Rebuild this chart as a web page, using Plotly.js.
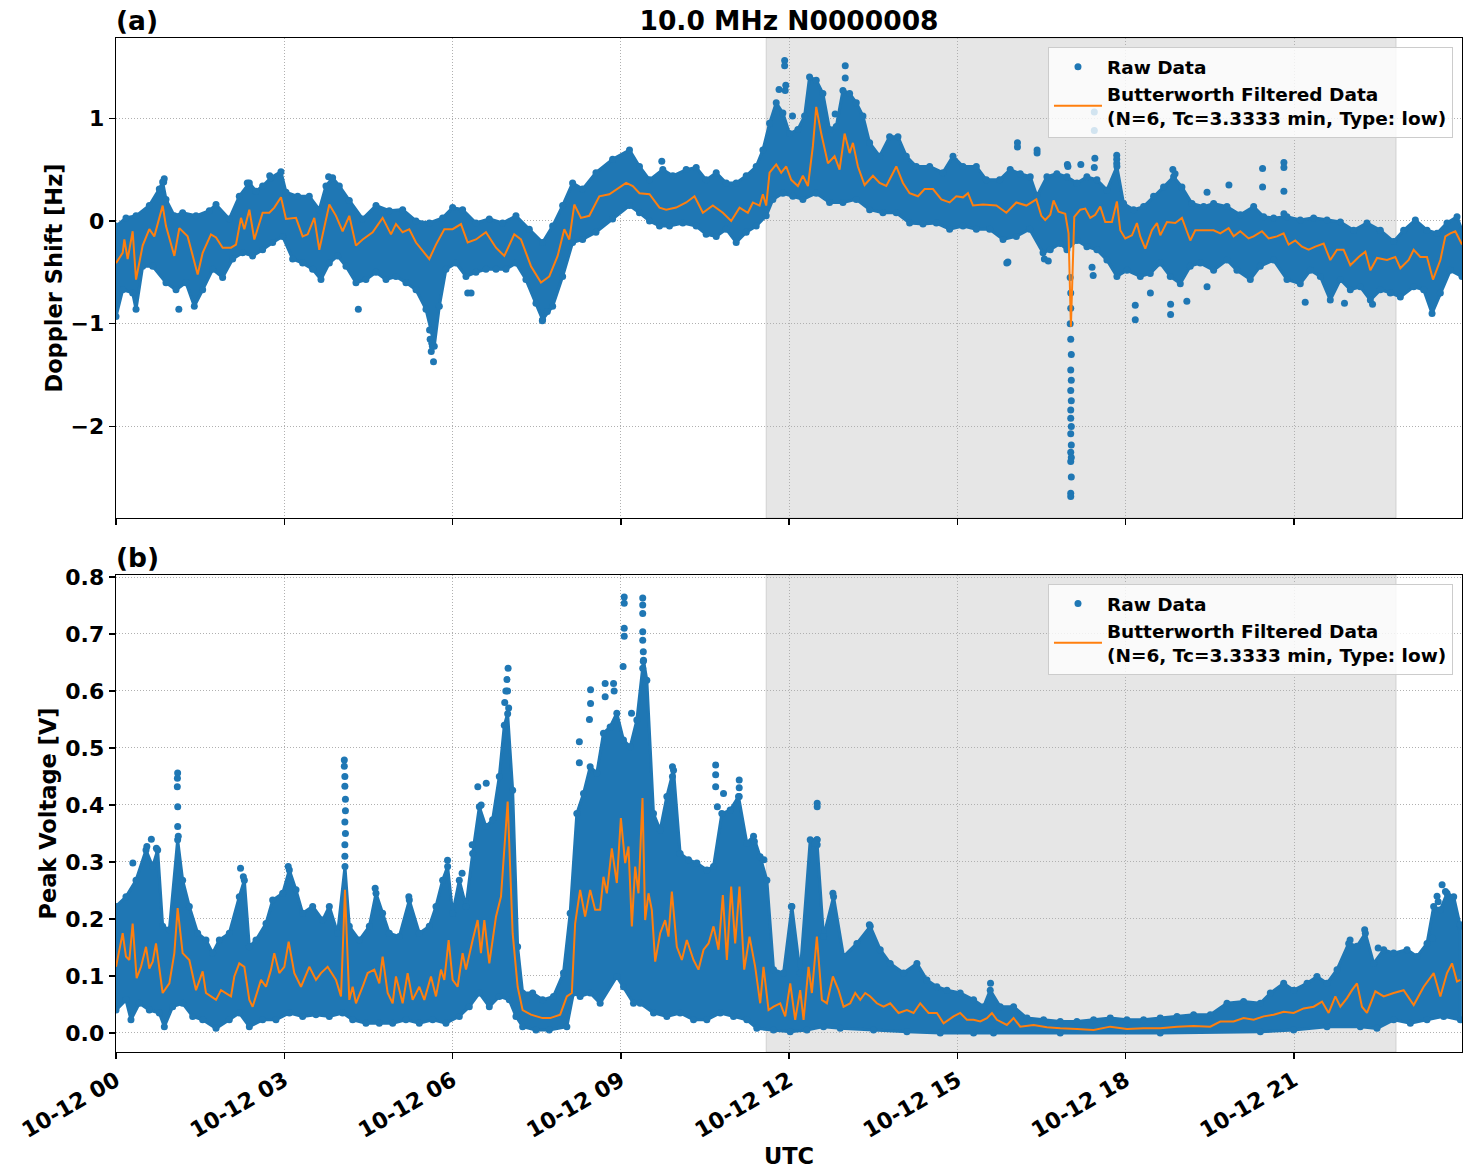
<!DOCTYPE html>
<html>
<head>
<meta charset="utf-8">
<script src="https://cdn.plot.ly/plotly-3.0.1.min.js"></script>
<style>html,body{margin:0;padding:0;background:#fff;}#chart{width:1471px;height:1172px;}</style>
</head>
<body>
<div id="chart"></div>
<script>
// ---------- DATA (hours after 2023-10-12 00:00 UTC, value) ----------
const chartTitle = "10.0 MHz N0000008";
const panelLabels = ["(a)", "(b)"];
const yTitles = ["Doppler Shift [Hz]", "Peak Voltage [V]"];
const xTitle = "UTC";
const legendRaw = "Raw Data";
const legendFilt = "Butterworth Filtered Data<br>(N=6, Tc=3.3333 min, Type: low)";
const shadeHours = [11.59, 22.82];

// Panel (a): Doppler shift - filtered line
const aFiltered = [[0.000,-0.41],[0.119,-0.31],[0.149,-0.18],[0.208,-0.37],[0.297,-0.10],[0.357,-0.57],[0.475,-0.24],[0.594,-0.08],[0.683,-0.15],[0.832,0.15],[0.891,-0.05],[1.040,-0.34],[1.129,-0.07],[1.277,-0.15],[1.456,-0.52],[1.545,-0.31],[1.693,-0.13],[1.783,-0.16],[1.901,-0.26],[2.050,-0.26],[2.139,-0.23],[2.228,0.03],[2.288,-0.08],[2.377,0.11],[2.466,-0.18],[2.614,0.08],[2.733,0.08],[2.822,0.13],[2.941,0.23],[3.030,0.02],[3.209,0.03],[3.327,-0.15],[3.417,-0.13],[3.535,0.03],[3.624,-0.28],[3.714,-0.05],[3.803,0.16],[3.922,0.05],[4.040,-0.10],[4.159,0.05],[4.278,-0.24],[4.397,-0.18],[4.575,-0.11],[4.753,0.03],[4.902,-0.13],[4.991,-0.03],[5.110,-0.11],[5.229,-0.08],[5.348,-0.21],[5.585,-0.37],[5.704,-0.23],[5.853,-0.08],[6.001,-0.08],[6.150,-0.03],[6.269,-0.21],[6.417,-0.18],[6.595,-0.11],[6.774,-0.26],[6.922,-0.34],[7.100,-0.13],[7.219,-0.18],[7.398,-0.44],[7.576,-0.60],[7.724,-0.54],[7.873,-0.34],[7.992,-0.08],[8.081,-0.18],[8.170,0.16],[8.289,0.03],[8.437,0.05],[8.616,0.24],[8.794,0.26],[9.094,0.37],[9.213,0.34],[9.332,0.27],[9.511,0.26],[9.689,0.13],[9.808,0.11],[9.986,0.13],[10.165,0.18],[10.313,0.24],[10.462,0.08],[10.640,0.15],[10.818,0.08],[10.967,0.00],[11.116,0.13],[11.264,0.08],[11.354,0.18],[11.473,0.15],[11.532,0.26],[11.591,0.15],[11.651,0.47],[11.770,0.55],[11.859,0.47],[11.948,0.53],[12.037,0.40],[12.156,0.34],[12.245,0.44],[12.335,0.34],[12.424,0.73],[12.483,1.11],[12.572,0.85],[12.691,0.56],[12.810,0.63],[12.899,0.50],[12.989,0.85],[13.078,0.66],[13.137,0.76],[13.226,0.53],[13.345,0.35],[13.494,0.44],[13.613,0.37],[13.732,0.34],[13.910,0.53],[14.029,0.37],[14.148,0.27],[14.297,0.24],[14.415,0.31],[14.564,0.31],[14.713,0.21],[14.861,0.18],[14.980,0.24],[15.099,0.23],[15.188,0.27],[15.278,0.15],[15.456,0.16],[15.694,0.15],[15.872,0.08],[16.050,0.18],[16.229,0.15],[16.407,0.21],[16.496,0.05],[16.565,0.01],[16.655,0.06],[16.714,0.20],[16.803,0.09],[16.922,0.07],[16.981,-0.12],[17.023,-1.03],[17.083,0.04],[17.190,0.11],[17.279,0.12],[17.368,0.03],[17.457,0.06],[17.546,0.14],[17.635,-0.01],[17.754,-0.01],[17.843,0.19],[17.903,-0.09],[17.992,-0.17],[18.111,-0.14],[18.200,-0.02],[18.259,-0.15],[18.349,-0.27],[18.467,-0.09],[18.557,-0.02],[18.616,-0.14],[18.735,-0.01],[18.884,-0.02],[19.002,0.03],[19.151,-0.19],[19.240,-0.09],[19.389,-0.09],[19.567,-0.09],[19.686,-0.12],[19.835,-0.07],[19.924,-0.15],[20.043,-0.10],[20.191,-0.17],[20.280,-0.15],[20.429,-0.10],[20.548,-0.17],[20.696,-0.15],[20.815,-0.12],[20.904,-0.23],[21.023,-0.19],[21.142,-0.25],[21.261,-0.28],[21.380,-0.25],[21.529,-0.22],[21.647,-0.38],[21.766,-0.28],[21.885,-0.28],[22.004,-0.43],[22.153,-0.35],[22.272,-0.30],[22.361,-0.48],[22.480,-0.36],[22.658,-0.38],[22.806,-0.35],[22.896,-0.46],[23.044,-0.38],[23.133,-0.28],[23.252,-0.35],[23.371,-0.35],[23.478,-0.57],[23.609,-0.38],[23.698,-0.15],[23.787,-0.12],[23.876,-0.10],[23.995,-0.23]];

// Panel (a): raw-data cloud, upper edge
const aRawUpper = [[0.000,-0.05],[0.178,0.03],[0.357,0.05],[0.594,0.15],[0.772,0.31],[0.832,0.38],[0.891,0.21],[1.040,0.05],[1.188,0.08],[1.426,0.05],[1.664,0.10],[1.783,0.16],[2.020,0.02],[2.198,0.24],[2.377,0.37],[2.496,0.29],[2.614,0.34],[2.763,0.42],[2.941,0.48],[3.030,0.28],[3.238,0.24],[3.446,0.24],[3.624,0.11],[3.743,0.34],[3.862,0.42],[3.981,0.34],[4.159,0.20],[4.397,0.02],[4.635,0.15],[4.872,0.10],[5.110,0.11],[5.348,0.00],[5.585,-0.02],[5.823,0.03],[6.001,0.13],[6.179,0.11],[6.417,-0.02],[6.655,0.02],[6.892,-0.02],[7.130,0.05],[7.368,-0.08],[7.605,-0.21],[7.784,-0.05],[7.962,0.15],[8.140,0.37],[8.319,0.31],[8.556,0.47],[8.853,0.60],[9.154,0.69],[9.332,0.53],[9.511,0.40],[9.748,0.50],[9.927,0.44],[10.165,0.50],[10.343,0.52],[10.521,0.40],[10.700,0.47],[10.878,0.37],[11.056,0.37],[11.235,0.44],[11.413,0.53],[11.532,0.69],[11.651,0.95],[11.770,1.15],[11.889,1.05],[12.008,0.85],[12.156,0.89],[12.275,1.02],[12.364,1.40],[12.483,1.37],[12.602,1.24],[12.721,0.89],[12.840,0.92],[12.959,1.27],[13.078,1.24],[13.197,1.15],[13.316,1.02],[13.435,0.76],[13.613,0.63],[13.791,0.82],[13.940,0.82],[14.088,0.63],[14.267,0.53],[14.505,0.53],[14.742,0.47],[14.921,0.63],[15.099,0.53],[15.337,0.53],[15.515,0.40],[15.753,0.40],[15.941,0.50],[16.120,0.46],[16.298,0.43],[16.417,0.24],[16.595,0.43],[16.773,0.46],[16.952,0.43],[17.130,0.37],[17.308,0.43],[17.487,0.40],[17.665,0.30],[17.843,0.53],[17.962,0.17],[18.141,0.11],[18.319,0.14],[18.497,0.24],[18.675,0.33],[18.854,0.43],[19.002,0.33],[19.181,0.17],[19.389,0.14],[19.567,0.17],[19.805,0.14],[20.043,0.06],[20.281,0.14],[20.459,0.04],[20.637,0.03],[20.875,0.04],[21.112,0.01],[21.350,0.03],[21.588,0.01],[21.826,-0.01],[22.063,-0.09],[22.301,-0.02],[22.539,-0.09],[22.777,-0.20],[22.955,-0.09],[23.163,0.01],[23.371,-0.09],[23.550,-0.12],[23.728,-0.02],[23.906,0.04],[23.995,-0.09]];

// Panel (a): raw-data cloud, lower edge
const aRawLower = [[0.000,-0.93],[0.119,-0.67],[0.297,-0.70],[0.357,-0.86],[0.475,-0.44],[0.654,-0.44],[0.891,-0.60],[1.070,-0.67],[1.248,-0.60],[1.396,-0.83],[1.545,-0.67],[1.723,-0.47],[1.901,-0.55],[2.080,-0.37],[2.258,-0.31],[2.436,-0.34],[2.614,-0.28],[2.793,-0.21],[2.971,-0.15],[3.149,-0.37],[3.327,-0.41],[3.506,-0.47],[3.654,-0.57],[3.803,-0.41],[3.951,-0.34],[4.100,-0.44],[4.278,-0.60],[4.456,-0.57],[4.635,-0.50],[4.813,-0.57],[4.991,-0.54],[5.169,-0.60],[5.348,-0.67],[5.526,-0.86],[5.615,-1.06],[5.674,-1.22],[5.764,-0.83],[5.882,-0.47],[6.061,-0.41],[6.239,-0.54],[6.417,-0.50],[6.595,-0.47],[6.774,-0.47],[6.952,-0.47],[7.130,-0.41],[7.308,-0.57],[7.487,-0.80],[7.605,-0.96],[7.784,-0.83],[7.962,-0.54],[8.140,-0.21],[8.319,-0.18],[8.556,-0.11],[8.853,0.02],[9.154,0.15],[9.332,0.08],[9.511,0.00],[9.689,-0.05],[9.867,-0.05],[10.105,-0.02],[10.343,-0.05],[10.521,-0.13],[10.700,-0.15],[10.878,-0.08],[11.056,-0.21],[11.235,-0.11],[11.413,-0.05],[11.591,0.05],[11.710,0.21],[11.889,0.27],[12.067,0.24],[12.245,0.21],[12.483,0.27],[12.721,0.18],[12.959,0.18],[13.197,0.21],[13.435,0.11],[13.672,0.08],[13.910,0.08],[14.148,-0.02],[14.386,-0.03],[14.624,-0.02],[14.861,-0.08],[15.099,-0.05],[15.337,-0.08],[15.575,-0.08],[15.813,-0.18],[16.050,-0.15],[16.288,-0.08],[16.526,-0.31],[16.655,-0.28],[16.833,-0.22],[16.952,-0.28],[17.130,-0.19],[17.308,-0.25],[17.487,-0.28],[17.665,-0.38],[17.843,-0.54],[18.022,-0.48],[18.260,-0.54],[18.438,-0.51],[18.616,-0.41],[18.794,-0.54],[18.973,-0.61],[19.151,-0.44],[19.329,-0.41],[19.567,-0.48],[19.805,-0.38],[19.983,-0.48],[20.221,-0.57],[20.399,-0.44],[20.637,-0.38],[20.875,-0.57],[21.112,-0.61],[21.291,-0.48],[21.469,-0.54],[21.647,-0.77],[21.826,-0.57],[22.004,-0.67],[22.182,-0.64],[22.361,-0.77],[22.539,-0.67],[22.717,-0.70],[22.896,-0.74],[23.133,-0.64],[23.312,-0.67],[23.461,-0.90],[23.609,-0.70],[23.787,-0.48],[23.995,-0.54]];

// Panel (a): isolated raw points outside the cloud
const aRawPoints = [[0.86,0.41],[0.85,0.38],[1.12,-0.86],[2.34,0.37],[2.74,0.44],[3.79,0.43],[4.32,-0.86],[5.59,-1.06],[5.60,-1.15],[5.63,-1.19],[5.64,-1.22],[5.62,-1.27],[5.66,-1.37],[6.27,-0.70],[6.33,-0.70],[7.60,-0.97],[7.69,-0.88],
[9.73,0.58],[11.82,1.28],[11.92,1.56],[11.92,1.51],[11.93,1.27],[11.94,1.32],[12.06,1.02],[12.82,1.04],[13.00,1.51],[13.00,1.39],[16.07,0.76],[16.07,0.72],[16.42,0.69],[16.42,0.66],[15.90,-0.40],[16.55,-0.37],[16.62,-0.39],[16.97,0.53],[17.44,1.06],[17.44,0.88],[17.45,0.61],[17.44,0.52],[17.40,-0.45],[17.42,-0.53],
[17.20,0.55],[16.96,0.55],[17.84,0.64],[17.84,0.60],[17.84,0.56],[18.84,0.50],[18.88,0.46],[20.44,0.51],[20.44,0.33],[20.82,0.57],[20.82,0.52],[20.82,0.29],[20.82,0.07],[19.84,0.35],[19.45,0.28],[18.17,-0.96],[18.17,-0.82],[18.80,-0.91],[18.80,-0.81],[18.44,-0.70],[19.09,-0.78],[19.45,-0.64],[21.20,-0.79],[21.90,-0.80],[22.40,-0.81],[15.88,-0.41],
[17.01,-0.55],[17.02,-0.70],[17.02,-0.85],[17.01,-1.00],[17.02,-1.15],[17.03,-1.30],[17.02,-1.45],[17.03,-1.55],[17.02,-1.65],[17.03,-1.75],[17.02,-1.84],[17.02,-1.92],[17.03,-2.00],[17.02,-2.07],[17.03,-2.18],[17.02,-2.25],[17.03,-2.30],[17.02,-2.34],[17.03,-2.49],[17.02,-2.65],[17.02,-2.68]];

// Panel (b): peak voltage - filtered line
const bFiltered = [[0.000,0.116],[0.119,0.175],[0.178,0.134],[0.238,0.128],[0.297,0.192],[0.368,0.096],[0.446,0.116],[0.535,0.151],[0.594,0.113],[0.654,0.125],[0.713,0.157],[0.832,0.070],[0.951,0.087],[1.040,0.140],[1.099,0.219],[1.188,0.140],[1.307,0.128],[1.426,0.075],[1.545,0.108],[1.604,0.070],[1.693,0.064],[1.783,0.058],[1.872,0.075],[1.961,0.070],[2.050,0.064],[2.109,0.099],[2.198,0.122],[2.288,0.116],[2.377,0.058],[2.436,0.046],[2.585,0.093],[2.674,0.081],[2.763,0.111],[2.822,0.140],[2.911,0.105],[3.001,0.116],[3.078,0.160],[3.179,0.105],[3.298,0.081],[3.446,0.116],[3.565,0.093],[3.654,0.105],[3.773,0.116],[3.922,0.093],[4.011,0.064],[4.082,0.251],[4.159,0.058],[4.219,0.081],[4.278,0.052],[4.397,0.081],[4.486,0.105],[4.605,0.111],[4.694,0.087],[4.753,0.134],[4.843,0.070],[4.932,0.052],[4.991,0.099],[5.110,0.052],[5.199,0.105],[5.288,0.058],[5.407,0.081],[5.496,0.058],[5.615,0.099],[5.704,0.064],[5.793,0.111],[5.853,0.093],[5.930,0.163],[6.001,0.093],[6.090,0.081],[6.179,0.140],[6.239,0.111],[6.358,0.163],[6.447,0.198],[6.506,0.140],[6.566,0.198],[6.655,0.122],[6.774,0.204],[6.863,0.239],[6.982,0.406],[7.071,0.175],[7.160,0.081],[7.249,0.040],[7.398,0.032],[7.605,0.026],[7.739,0.026],[7.918,0.032],[8.037,0.064],[8.126,0.070],[8.185,0.192],[8.274,0.251],[8.363,0.204],[8.453,0.251],[8.542,0.216],[8.631,0.216],[8.690,0.274],[8.750,0.245],[8.839,0.324],[8.928,0.263],[9.000,0.377],[9.077,0.298],[9.136,0.327],[9.196,0.187],[9.255,0.292],[9.314,0.245],[9.386,0.412],[9.433,0.198],[9.493,0.245],[9.552,0.216],[9.612,0.125],[9.701,0.175],[9.790,0.198],[9.849,0.169],[9.909,0.248],[9.998,0.151],[10.087,0.128],[10.176,0.163],[10.295,0.128],[10.384,0.111],[10.474,0.146],[10.563,0.157],[10.652,0.187],[10.741,0.146],[10.818,0.242],[10.890,0.128],[10.967,0.257],[11.038,0.157],[11.115,0.257],[11.199,0.111],[11.294,0.169],[11.395,0.116],[11.484,0.052],[11.543,0.116],[11.633,0.040],[11.722,0.046],[11.841,0.052],[11.930,0.029],[12.019,0.087],[12.108,0.023],[12.197,0.075],[12.257,0.023],[12.346,0.116],[12.405,0.070],[12.494,0.169],[12.584,0.058],[12.673,0.052],[12.780,0.099],[12.881,0.075],[12.970,0.046],[13.089,0.052],[13.178,0.070],[13.267,0.058],[13.356,0.070],[13.446,0.064],[13.564,0.052],[13.683,0.046],[13.802,0.052],[13.951,0.035],[14.099,0.040],[14.218,0.035],[14.337,0.052],[14.486,0.035],[14.634,0.035],[14.753,0.017],[14.931,0.029],[15.050,0.035],[15.169,0.023],[15.288,0.023],[15.407,0.020],[15.526,0.026],[15.615,0.035],[15.704,0.023],[15.882,0.014],[16.001,0.026],[16.120,0.011],[16.358,0.014],[16.595,0.010],[16.833,0.008],[17.130,0.007],[17.428,0.005],[17.725,0.011],[18.022,0.007],[18.319,0.008],[18.616,0.008],[18.914,0.011],[19.211,0.012],[19.508,0.011],[19.686,0.020],[19.924,0.020],[20.102,0.026],[20.281,0.023],[20.459,0.029],[20.637,0.032],[20.816,0.037],[20.994,0.035],[21.172,0.043],[21.351,0.046],[21.499,0.055],[21.618,0.035],[21.737,0.064],[21.826,0.046],[21.945,0.061],[22.034,0.075],[22.123,0.087],[22.212,0.046],[22.301,0.035],[22.450,0.073],[22.599,0.064],[22.777,0.070],[22.955,0.075],[23.134,0.049],[23.312,0.081],[23.490,0.105],[23.609,0.064],[23.728,0.105],[23.817,0.122],[23.906,0.090],[23.966,0.093]];

// Panel (b): raw-data cloud, upper edge
const bRawUpper = [[0.000,0.222],[0.178,0.239],[0.357,0.268],[0.535,0.321],[0.654,0.292],[0.743,0.321],[0.832,0.187],[0.951,0.181],[1.099,0.339],[1.188,0.268],[1.307,0.222],[1.456,0.175],[1.604,0.163],[1.723,0.140],[1.842,0.163],[2.020,0.175],[2.198,0.239],[2.288,0.268],[2.377,0.151],[2.496,0.163],[2.674,0.192],[2.793,0.233],[2.971,0.245],[3.090,0.286],[3.209,0.251],[3.327,0.210],[3.506,0.222],[3.684,0.198],[3.803,0.222],[3.951,0.175],[4.082,0.292],[4.159,0.187],[4.338,0.163],[4.516,0.187],[4.635,0.245],[4.753,0.210],[4.872,0.175],[5.050,0.169],[5.229,0.233],[5.407,0.175],[5.585,0.187],[5.704,0.222],[5.823,0.268],[5.912,0.292],[6.001,0.210],[6.120,0.268],[6.239,0.222],[6.358,0.315],[6.477,0.397],[6.595,0.362],[6.714,0.374],[6.833,0.450],[6.922,0.540],[6.982,0.560],[7.071,0.426],[7.160,0.151],[7.249,0.070],[7.427,0.070],[7.605,0.058],[7.799,0.064],[7.977,0.105],[8.096,0.210],[8.215,0.385],[8.334,0.420],[8.453,0.467],[8.572,0.456],[8.690,0.526],[8.809,0.537],[8.928,0.561],[9.047,0.514],[9.166,0.502],[9.285,0.549],[9.404,0.654],[9.463,0.619],[9.582,0.385],[9.701,0.356],[9.820,0.415],[9.939,0.461],[10.057,0.315],[10.206,0.304],[10.355,0.298],[10.533,0.286],[10.652,0.292],[10.800,0.385],[10.949,0.391],[11.098,0.415],[11.246,0.333],[11.365,0.345],[11.484,0.309],[11.603,0.268],[11.722,0.111],[11.900,0.105],[12.049,0.222],[12.197,0.105],[12.376,0.339],[12.494,0.339],[12.613,0.169],[12.792,0.239],[12.970,0.134],[13.208,0.157],[13.446,0.187],[13.624,0.146],[13.802,0.122],[14.040,0.105],[14.278,0.122],[14.456,0.093],[14.634,0.081],[14.813,0.075],[15.050,0.070],[15.288,0.058],[15.466,0.046],[15.585,0.075],[15.763,0.046],[16.001,0.046],[16.239,0.026],[16.536,0.023],[16.833,0.020],[17.130,0.020],[17.428,0.023],[17.725,0.026],[18.022,0.023],[18.319,0.023],[18.616,0.026],[18.914,0.029],[19.211,0.032],[19.508,0.032],[19.805,0.052],[20.102,0.055],[20.400,0.052],[20.578,0.070],[20.816,0.087],[20.994,0.075],[21.232,0.087],[21.410,0.099],[21.588,0.087],[21.767,0.111],[21.975,0.157],[22.123,0.152],[22.272,0.175],[22.420,0.122],[22.599,0.146],[22.777,0.140],[23.015,0.146],[23.193,0.134],[23.371,0.157],[23.490,0.222],[23.609,0.216],[23.728,0.245],[23.847,0.239],[23.966,0.187]];

// Panel (b): raw-data cloud, lower edge
const bRawLower = [[0.000,0.040],[0.178,0.058],[0.267,0.023],[0.416,0.052],[0.594,0.040],[0.772,0.035],[0.862,0.011],[1.010,0.046],[1.188,0.052],[1.367,0.029],[1.545,0.023],[1.783,0.008],[2.020,0.023],[2.198,0.035],[2.377,0.011],[2.614,0.023],[2.852,0.023],[3.090,0.035],[3.327,0.029],[3.565,0.032],[3.803,0.029],[4.040,0.035],[4.219,0.023],[4.456,0.017],[4.694,0.017],[4.932,0.017],[5.169,0.023],[5.407,0.017],[5.645,0.023],[5.882,0.017],[6.120,0.029],[6.298,0.046],[6.477,0.070],[6.655,0.046],[6.833,0.064],[7.011,0.058],[7.130,0.029],[7.249,0.011],[7.487,0.005],[7.724,0.005],[8.037,0.011],[8.155,0.070],[8.274,0.064],[8.453,0.070],[8.631,0.052],[8.928,0.099],[9.047,0.081],[9.225,0.052],[9.344,0.052],[9.582,0.035],[9.820,0.029],[10.057,0.035],[10.295,0.023],[10.533,0.023],[10.771,0.035],[11.008,0.029],[11.246,0.023],[11.424,0.008],[11.722,0.005],[12.019,0.002],[12.316,0.005],[12.613,0.011],[12.911,0.008],[13.505,0.005],[14.099,0.002],[14.694,0.000],[15.288,0.000],[15.644,0.000],[16.833,0.000],[18.616,0.000],[20.400,0.002],[20.994,0.005],[21.588,0.011],[22.182,0.011],[22.480,0.008],[22.777,0.023],[23.074,0.017],[23.371,0.023],[23.669,0.029],[23.966,0.023]];

// Panel (b): isolated raw points outside the cloud
const bRawPoints = [[1.099,0.456],[1.095,0.447],[1.093,0.432],[1.100,0.397],[1.100,0.362],[1.110,0.345],[0.63,0.340],[0.55,0.327],[0.72,0.324],[0.30,0.298],[2.22,0.289],[2.27,0.274],[3.07,0.292],
[4.07,0.479],[4.07,0.468],[4.08,0.450],[4.08,0.433],[4.09,0.410],[4.09,0.390],[4.08,0.370],[4.09,0.350],[4.08,0.330],[4.08,0.310],[4.62,0.254],[5.22,0.239],[5.91,0.303],[6.17,0.280],[6.45,0.432],[6.60,0.438],[6.51,0.400],[6.35,0.330],
[6.93,0.580],[6.95,0.600],[6.97,0.620],[6.99,0.640],[6.98,0.600],[7.00,0.570],[8.26,0.511],[8.26,0.474],[8.46,0.602],[8.46,0.578],[8.44,0.550],[8.72,0.613],[8.72,0.590],[8.87,0.613],[8.88,0.600],
[9.06,0.765],[9.06,0.754],[9.06,0.710],[9.06,0.696],[9.04,0.643],[9.39,0.763],[9.39,0.751],[9.39,0.736],[9.39,0.704],[9.39,0.689],[9.40,0.669],[9.40,0.652],[9.39,0.640],[9.19,0.561],[9.92,0.467],[9.92,0.450],
[10.69,0.470],[10.69,0.453],[10.69,0.432],[10.83,0.420],[10.72,0.397],[11.11,0.444],[11.11,0.430],[11.11,0.415],[11.38,0.336],[11.55,0.304],[12.04,0.222],[12.50,0.403],[12.50,0.397],[12.50,0.339],[12.50,0.330],[12.46,0.333],[12.78,0.245],[13.43,0.190],
[15.59,0.087],[22.00,0.163],[22.26,0.181],[22.50,0.149],[23.47,0.166],[23.57,0.230],[23.64,0.260],[23.70,0.248],[23.55,0.240],[23.96,0.190]];

// ---------- DRAWING ----------
const BLUE = '#1f77b4', ORANGE = '#ff7f0e';
const base = Date.UTC(2023, 9, 12);
function toDate(h) { return new Date(base + h * 3600000).toISOString().slice(0, 23).replace('T', ' '); }
const xs = arr => arr.map(p => toDate(p[0]));
const ys = arr => arr.map(p => p[1]);
function cloud(upper, lower, xa, ya) {
  const lowRev = lower.slice().reverse();
  return {
    x: xs(upper).concat(xs(lowRev)), y: ys(upper).concat(ys(lowRev)),
    xaxis: xa, yaxis: ya, mode: 'lines+markers', fill: 'toself', fillcolor: BLUE,
    line: {color: BLUE, width: 3, shape: 'linear'}, marker: {color: BLUE, size: 7},
    showlegend: false, hoverinfo: 'skip'
  };
}
function points(arr, xa, ya, leg) {
  return {x: xs(arr), y: ys(arr), xaxis: xa, yaxis: ya, mode: 'markers', name: legendRaw,
    marker: {color: BLUE, size: 7}, legend: leg};
}
function filt(arr, xa, ya, leg) {
  return {x: xs(arr), y: ys(arr), xaxis: xa, yaxis: ya, mode: 'lines', name: legendFilt,
    line: {color: ORANGE, width: 2}, legend: leg};
}
const traces = [
  cloud(aRawUpper, aRawLower, 'x', 'y'),
  points(aRawPoints, 'x', 'y', 'legend'),
  filt(aFiltered, 'x', 'y', 'legend'),
  cloud(bRawUpper, bRawLower, 'x2', 'y2'),
  points(bRawPoints, 'x2', 'y2', 'legend2'),
  filt(bFiltered, 'x2', 'y2', 'legend2')
];

const FONT = 'DejaVu Sans, sans-serif';
const xRange = [toDate(0), toDate(23.995)];
const axisCommon = {
  showline: true, mirror: true, linecolor: '#000', linewidth: 1.3,
  ticks: 'outside', ticklen: 6, tickwidth: 1.3, tickcolor: '#000',
  showgrid: true, gridcolor: '#b0b0b0', griddash: '1px,2px', gridwidth: 1,
  zeroline: false, tickfont: {family: FONT, size: 22, color: '#000', weight: 'bold'}
};
const xCommon = Object.assign({}, axisCommon, {type: 'date', range: xRange, dtick: 3 * 3600000,
  tick0: toDate(0), tickformat: '%m-%d %H'});
const legendCommon = {
  bgcolor: 'rgba(255,255,255,0.8)', bordercolor: '#cccccc', borderwidth: 1,
  xanchor: 'right', yanchor: 'top', font: {family: FONT, size: 18.5, color: '#000', weight: 'bold'},
  itemwidth: 48
};
const shade = (xr, yr) => ({type: 'rect', xref: xr, yref: yr + ' domain', x0: toDate(shadeHours[0]), x1: toDate(shadeHours[1]),
  y0: 0, y1: 1, fillcolor: 'rgba(128,128,128,0.2)', line: {width: 1, color: 'rgba(128,128,128,0.25)'}, layer: 'below'});
const labelFont = {family: FONT, size: 26.5, color: '#000', weight: 'bold'};
const axTitleFont = {family: FONT, size: 22.5, color: '#000', weight: 'bold'};

const layout = {
  width: 1471, height: 1172, paper_bgcolor: '#fff', plot_bgcolor: '#fff',
  margin: {l: 116, r: 9, t: 38, b: 120},
  font: {family: FONT, color: '#000'},
  title: {text: chartTitle, font: labelFont,
    x: 0.5, xref: 'paper', xanchor: 'center', y: 1 - 21 / 1172, yref: 'container', yanchor: 'middle'},
  xaxis: Object.assign({}, xCommon, {domain: [0, 1], anchor: 'y', showticklabels: false, matches: 'x2'}),
  yaxis: Object.assign({}, axisCommon, {domain: [0.5266, 1], anchor: 'x', range: [-2.89, 1.78], dtick: 1,
    title: {text: yTitles[0], font: axTitleFont, standoff: 1}}),
  xaxis2: Object.assign({}, xCommon, {domain: [0, 1], anchor: 'y2', tickangle: -30,
    title: {text: xTitle, font: axTitleFont, standoff: 0}}),
  yaxis2: Object.assign({}, axisCommon, {domain: [0, 0.4704], anchor: 'x2', range: [-0.0335, 0.8035], dtick: 0.1,
    tickformat: '.1f',
    title: {text: yTitles[1], font: axTitleFont, standoff: 2}}),
  legend: Object.assign({}, legendCommon, {x: 0.9933, y: 0.991}),
  legend2: Object.assign({}, legendCommon, {x: 0.9933, y: 0.4615}),
  shapes: [shade('x', 'y'), shade('x2', 'y2')],
  annotations: [
    {text: panelLabels[0], xref: 'paper', yref: 'paper', x: 0, y: 1, xanchor: 'left', yanchor: 'bottom', yshift: 0, xshift: -2,
      showarrow: false, font: labelFont},
    {text: panelLabels[1], xref: 'paper', yref: 'paper', x: 0, y: 0.4704, xanchor: 'left', yanchor: 'bottom', yshift: 0, xshift: -2,
      showarrow: false, font: labelFont}
  ],
  showlegend: true
};
Plotly.newPlot('chart', traces, layout, {displayModeBar: false, staticPlot: true});
</script>
</body>
</html>
